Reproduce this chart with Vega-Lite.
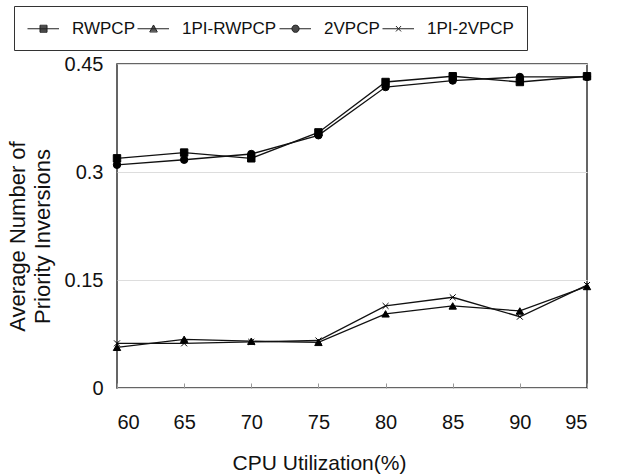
{
  "$schema": "https://vega.github.io/schema/vega-lite/v6.json",
  "width": 470,
  "height": 324,
  "autosize": {"type": "none"},
  "padding": {"left": 117, "top": 64, "right": 54, "bottom": 88},
  "background": "white",
  "config": {
    "font": "Liberation Sans",
    "view": {"stroke": "#333", "strokeWidth": 1.5},
    "axis": {"labelColor": "#111", "titleColor": "#111", "titleFontWeight": "normal", "labelFont": "Liberation Sans", "titleFont": "Liberation Sans"}
  },
  "data": {
    "values": [
      {"x": 60, "series": "RWPCP", "y": 0.319},
      {"x": 65, "series": "RWPCP", "y": 0.327},
      {"x": 70, "series": "RWPCP", "y": 0.319},
      {"x": 75, "series": "RWPCP", "y": 0.355},
      {"x": 80, "series": "RWPCP", "y": 0.425},
      {"x": 85, "series": "RWPCP", "y": 0.433},
      {"x": 90, "series": "RWPCP", "y": 0.425},
      {"x": 95, "series": "RWPCP", "y": 0.433},
      {"x": 60, "series": "2VPCP", "y": 0.310},
      {"x": 65, "series": "2VPCP", "y": 0.317},
      {"x": 70, "series": "2VPCP", "y": 0.325},
      {"x": 75, "series": "2VPCP", "y": 0.351},
      {"x": 80, "series": "2VPCP", "y": 0.418},
      {"x": 85, "series": "2VPCP", "y": 0.427},
      {"x": 90, "series": "2VPCP", "y": 0.432},
      {"x": 95, "series": "2VPCP", "y": 0.432},
      {"x": 60, "series": "1PI-RWPCP", "y": 0.0565},
      {"x": 65, "series": "1PI-RWPCP", "y": 0.0676},
      {"x": 70, "series": "1PI-RWPCP", "y": 0.065},
      {"x": 75, "series": "1PI-RWPCP", "y": 0.0634},
      {"x": 80, "series": "1PI-RWPCP", "y": 0.103},
      {"x": 85, "series": "1PI-RWPCP", "y": 0.114},
      {"x": 90, "series": "1PI-RWPCP", "y": 0.107},
      {"x": 95, "series": "1PI-RWPCP", "y": 0.141},
      {"x": 60, "series": "1PI-2VPCP", "y": 0.062},
      {"x": 65, "series": "1PI-2VPCP", "y": 0.062},
      {"x": 70, "series": "1PI-2VPCP", "y": 0.064},
      {"x": 75, "series": "1PI-2VPCP", "y": 0.066},
      {"x": 80, "series": "1PI-2VPCP", "y": 0.114},
      {"x": 85, "series": "1PI-2VPCP", "y": 0.126},
      {"x": 90, "series": "1PI-2VPCP", "y": 0.099},
      {"x": 95, "series": "1PI-2VPCP", "y": 0.143}
    ]
  },
  "encoding": {
    "x": {
      "field": "x",
      "type": "quantitative",
      "scale": {"domain": [60, 95], "nice": false, "zero": false},
      "axis": {
        "values": [60, 65, 70, 75, 80, 85, 90, 95],
        "grid": false,
        "domain": false,
        "ticks": true,
        "tickSize": -5,
        "tickColor": "#999",
        "tickWidth": 1,
        "labelFontSize": 20,
        "labelPadding": 29,
        "title": "CPU Utilization(%)",
        "titleFontSize": 21,
        "titlePadding": 20,
        "titleX": 202
      }
    },
    "y": {
      "field": "y",
      "type": "quantitative",
      "scale": {"domain": [0, 0.45], "nice": false},
      "axis": {
        "values": [0, 0.15, 0.3, 0.45],
        "format": ".2~f",
        "grid": true,
        "gridColor": "#ddd",
        "domain": false,
        "ticks": false,
        "labelFontSize": 20,
        "labelPadding": 14,
        "title": ["Average Number of", "Priority Inversions"],
        "titleFontSize": 22,
        "titleLineHeight": 25,
        "titlePadding": 10,
        "titleY": 172
      }
    }
  },
  "layer": [
    {
      "mark": {"type": "line", "color": "#111", "strokeWidth": 1.3},
      "encoding": {"detail": {"field": "series", "type": "nominal"}}
    },
    {
      "mark": {"type": "point", "filled": true, "fill": "black", "stroke": "black", "strokeWidth": 1, "size": 55, "opacity": 1},
      "encoding": {
        "shape": {
          "field": "series",
          "type": "nominal",
          "scale": {
            "domain": ["RWPCP", "1PI-RWPCP", "2VPCP", "1PI-2VPCP"],
            "range": ["square", "triangle-up", "circle", "M-0.8,-0.8L0.8,0.8M-0.8,0.8L0.8,-0.8"]
          },
          "legend": null
        }
      }
    },
    {
      "transform": [{"filter": "datum.x > 1000"}],
      "mark": {"type": "point", "filled": false, "stroke": "#222", "strokeWidth": 1, "opacity": 1},
      "encoding": {
        "shape": {
          "field": "series",
          "type": "nominal",
          "scale": {
            "domain": ["RWPCP", "1PI-RWPCP", "2VPCP", "1PI-2VPCP"],
            "range": [
              "M-1,0H2.5M0.39,-0.39H1.17V0.39H0.39ZM0.39,-0.28H1.17M0.39,-0.17H1.17M0.39,-0.06H1.17M0.39,0.06H1.17M0.39,0.17H1.17M0.39,0.28H1.17",
              "M-1,0H2.5M0.78,-0.42L1.2,0.36H0.36ZM0.72,-0.31H0.84M0.66,-0.2H0.9M0.6,-0.09H0.96M0.54,0.02H1.02M0.48,0.13H1.08M0.42,0.24H1.14",
              "M-1,0H2.5M0.38,0A0.4,0.4,0,1,1,1.18,0A0.4,0.4,0,1,1,0.38,0ZM0.554,-0.33H1.006M0.446,-0.22H1.114M0.395,-0.11H1.165M0.395,0.11H1.165M0.446,0.22H1.114M0.554,0.33H1.006",
              "M-1,0H2.5M0.5,-0.3L1.06,0.3M0.5,0.3L1.06,-0.3"
            ]
          },
          "legend": {
            "orient": "none",
            "legendX": -103,
            "legendY": -58,
            "direction": "horizontal",
            "title": null,
            "strokeColor": "#333",
            "padding": 13,
            "symbolSize": 324,
            "symbolStrokeWidth": 1,
            "symbolStrokeColor": "#222",
            "symbolOpacity": 1,
            "labelFontSize": 17,
            "labelColor": "#111",
            "labelOffset": 26,
            "labelLimit": 400,
            "columnPadding": 0
          }
        }
      }
    }
  ],
  "resolve": {"scale": {"shape": "independent"}, "legend": {"shape": "independent"}}
}
